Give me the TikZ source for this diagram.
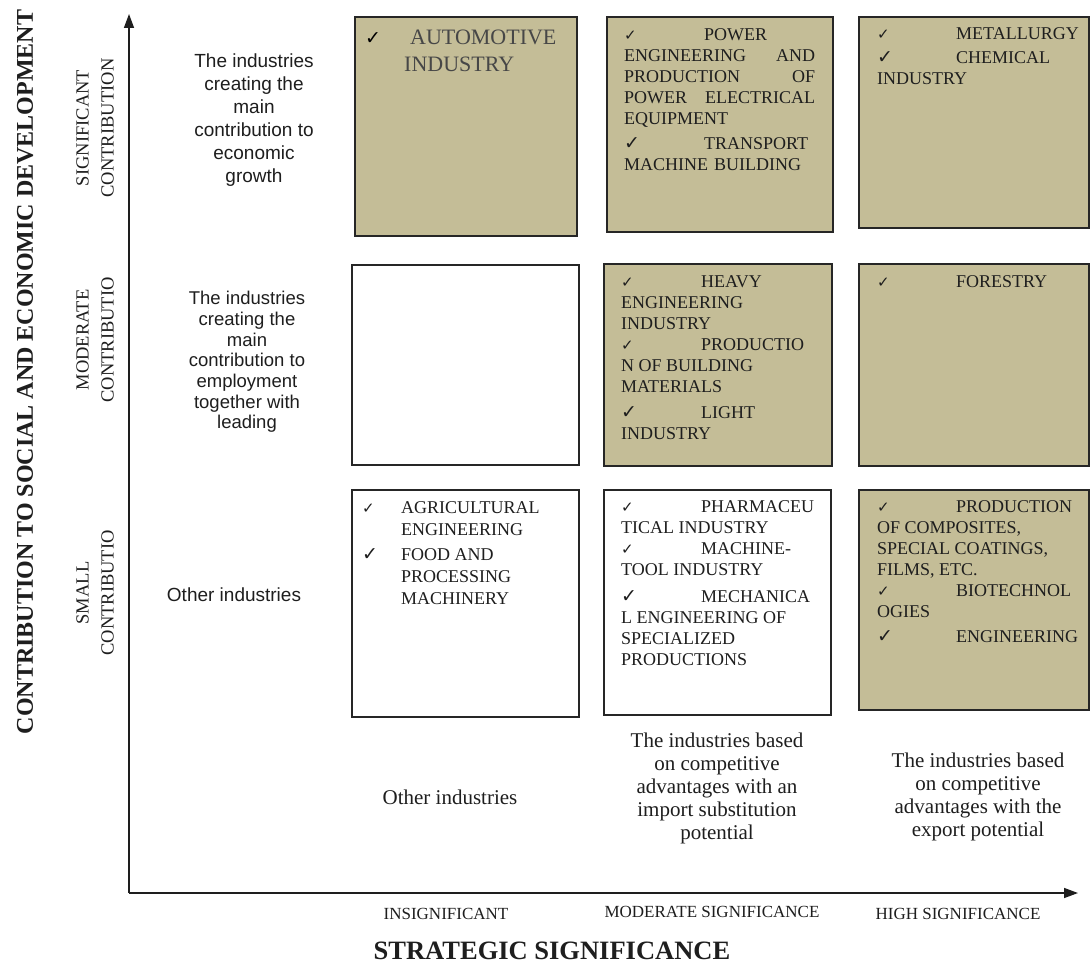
\documentclass[tikz,border=0pt]{standalone}
\usepackage{fontspec}
\setmainfont{Liberation Serif}
\newfontfamily\sansfam{Liberation Sans}
\newfontfamily\symfam{DejaVu Sans}
\usetikzlibrary{arrows.meta}
\definecolor{tanc}{HTML}{C4BD97}
\definecolor{ink}{HTML}{1E1E1E}
\newcommand{\sck}{{\symfam\fontsize{15}{15}\selectfont ✓}}
\newcommand{\bck}{{\symfam\bfseries\fontsize{19}{19}\selectfont ✓}}
\tikzset{
  qbox/.style={draw=black!85, line width=1.1pt, anchor=north west, inner sep=0pt, outer sep=0pt},
  filled/.style={qbox, fill=tanc},
  blank/.style={qbox, fill=white},
  itemtext/.style={anchor=north west, inner sep=0pt, align=left, text=ink, font=\fontsize{18}{21}\selectfont},
  sidelbl/.style={align=center, inner sep=0pt, text=ink, font=\sansfam\fontsize{19}{23}\selectfont},
  rowlbl/.style={align=center, inner sep=0pt, text=ink, rotate=90, font=\fontsize{18.5}{25}\selectfont},
  botlbl/.style={align=center, inner sep=0pt, text=ink, font=\fontsize{21}{23}\selectfont},
  ticklbl/.style={inner sep=0pt, text=ink, font=\fontsize{17}{17}\selectfont},
  axistitle/.style={inner sep=0pt, text=ink, font=\bfseries\fontsize{24}{24}\selectfont},
  axisline/.style={line width=1.4pt, draw=ink, -{Triangle[length=14pt,width=10pt]}}
}
\begin{document}
\begin{tikzpicture}[x=1pt,y=-1pt]
\useasboundingbox (0,0) rectangle (1091,965);
\fill[white] (0,0) rectangle (1091,965);

% axes
\coordinate (O) at (129,893);
\coordinate (ytop) at (129,14);
\coordinate (xend) at (1078,893);
\draw[axisline] (O) -- (ytop);
\draw[axisline] (O) -- (xend);

% boxes
\node[filled, minimum width=222pt, minimum height=219pt] (b11) at (355,17) {};
\node[filled, minimum width=226pt, minimum height=215pt] (b12) at (607,17) {};
\node[filled, minimum width=230pt, minimum height=211pt] (b13) at (859,17) {};
\node[blank,  minimum width=227pt, minimum height=200pt] (b21) at (352,265) {};
\node[filled, minimum width=228pt, minimum height=202pt] (b22) at (604,264) {};
\node[filled, minimum width=230pt, minimum height=202pt] (b23) at (859,264) {};
\node[blank,  minimum width=227pt, minimum height=227pt] (b31) at (352,490) {};
\node[blank,  minimum width=227pt, minimum height=225pt] (b32) at (604,490) {};
\node[filled, minimum width=230pt, minimum height=220pt] (b33) at (859,490) {};

% box texts
\node[itemtext, font=\fontsize{22}{27}\selectfont, text=black!72] (t11) at (365,25)
  {\strut\makebox[45pt][l]{\textcolor{black}{\bck}}AUTOMOTIVE\\\hspace*{39pt}INDUSTRY};
\node[itemtext, text width=191pt] (t12) at (624,26)
  {\strut\makebox[80pt][l]{\sck}POWER\\
   ENGINEERING\hfill AND\\
   PRODUCTION\hfill OF\\
   POWER\hfill ELECTRICAL\\
   EQUIPMENT\\[4pt]
   \makebox[80pt][l]{\bck}TRANSPORT\\
   MACHINE BUILDING};
\node[itemtext] (t13) at (877,25)
  {\strut\makebox[79pt][l]{\sck}METALLURGY\\[3pt]
   \makebox[79pt][l]{\bck}CHEMICAL\\
   INDUSTRY};
\node[itemtext] (t22) at (621,273)
  {\strut\makebox[80pt][l]{\sck}HEAVY\\
   ENGINEERING\\
   INDUSTRY\\
   \makebox[80pt][l]{\sck}PRODUCTIO\\
   N OF BUILDING\\
   MATERIALS\\[5pt]
   \makebox[80pt][l]{\bck}LIGHT\\
   INDUSTRY};
\node[itemtext] (t23) at (877,273)
  {\strut\makebox[79pt][l]{\sck}FORESTRY};
\node[itemtext, font=\fontsize{18}{22}\selectfont] (t31) at (362,498)
  {\strut\makebox[39pt][l]{\sck}AGRICULTURAL\\
   \hspace*{39pt}ENGINEERING\\[3pt]
   \makebox[39pt][l]{\bck}FOOD AND\\
   \hspace*{39pt}PROCESSING\\
   \hspace*{39pt}MACHINERY};
\node[itemtext] (t32) at (621,498)
  {\strut\makebox[80pt][l]{\sck}PHARMACEU\\
   TICAL INDUSTRY\\
   \makebox[80pt][l]{\sck}MACHINE-\\
   TOOL INDUSTRY\\[6pt]
   \makebox[80pt][l]{\bck}MECHANICA\\
   L ENGINEERING OF\\
   SPECIALIZED\\
   PRODUCTIONS};
\node[itemtext] (t33) at (877,498)
  {\strut\makebox[79pt][l]{\sck}PRODUCTION\\
   OF COMPOSITES,\\
   SPECIAL COATINGS,\\
   FILMS, ETC.\\
   \makebox[79pt][l]{\sck}BIOTECHNOL\\
   OGIES\\[4pt]
   \makebox[79pt][l]{\bck}ENGINEERING};

% left descriptions
\node[sidelbl] (l1) at (254,120) {The industries\\creating the\\main\\contribution to\\economic\\growth};
\node[sidelbl, font=\sansfam\fontsize{18.5}{20.7}\selectfont] (l2) at (247,362) {The industries\\creating the\\main\\contribution to\\employment\\together with\\leading};
\node[sidelbl] (l3) at (234,595) {Other industries};

% row labels
\node[rowlbl] (r1) at (95,128) {SIGNIFICANT\\CONTRIBUTION};
\node[rowlbl] (r2) at (95,340) {MODERATE\\CONTRIBUTIO};
\node[rowlbl] (r3) at (95,593) {SMALL\\CONTRIBUTIO};

% bottom descriptions
\node[botlbl] (d1) at (450,797) {Other industries};
\node[botlbl] (d2) at (717,788) {The industries based\\on competitive\\advantages with an\\import substitution\\potential};
\node[botlbl] (d3) at (978,797) {The industries based\\on competitive\\advantages with the\\export potential};

% tick labels
\node[ticklbl] (x1) at (446,914) {INSIGNIFICANT};
\node[ticklbl] (x2) at (712,912) {MODERATE SIGNIFICANCE};
\node[ticklbl] (x3) at (958,914) {HIGH SIGNIFICANCE};

% axis titles
\node[axistitle, rotate=90] (ytitle) at (25,372) {CONTRIBUTION TO SOCIAL AND ECONOMIC DEVELOPMENT};
\node[axistitle, font=\bfseries\fontsize{26.5}{26.5}\selectfont] (xtitle) at (552,951) {STRATEGIC SIGNIFICANCE};
\end{tikzpicture}
\end{document}
